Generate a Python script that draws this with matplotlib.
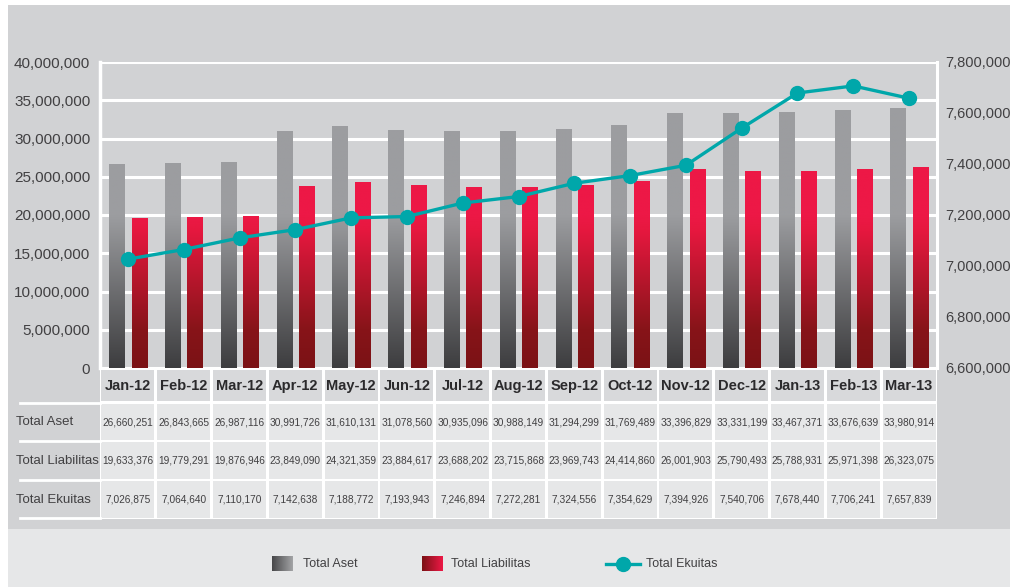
import numpy as np
import matplotlib
matplotlib.use('Agg')
import matplotlib.pyplot as plt
from matplotlib.colors import LinearSegmentedColormap, Normalize
from matplotlib.patches import Rectangle
import matplotlib.transforms as mtransforms

plt.rcParams['font.family'] = ['Liberation Sans', 'DejaVu Sans']

months = ['Jan-12', 'Feb-12', 'Mar-12', 'Apr-12', 'May-12', 'Jun-12', 'Jul-12', 'Aug-12',
          'Sep-12', 'Oct-12', 'Nov-12', 'Dec-12', 'Jan-13', 'Feb-13', 'Mar-13']
total_aset = [26660251, 26843665, 26987116, 30991726, 31610131, 31078560, 30935096, 30988149,
              31294299, 31769489, 33396829, 33331199, 33467371, 33676639, 33980914]
total_liabilitas = [19633376, 19779291, 19876946, 23849090, 24321359, 23884617, 23688202, 23715868,
                    23969743, 24414860, 26001903, 25790493, 25788931, 25971398, 26323075]
total_ekuitas = [7026875, 7064640, 7110170, 7142638, 7188772, 7193943, 7246894, 7272281,
                 7324556, 7354629, 7394926, 7540706, 7678440, 7706241, 7657839]
row_names = ['Total Aset', 'Total Liabilitas', 'Total Ekuitas']

PAGE = '#d1d2d4'
BAND = '#e6e7e8'
CELL = '#e6e7e8'
HEAD = '#d8d9db'
TEXT = '#414042'
TEAL = '#00a7aa'

grey_cmap = LinearSegmentedColormap.from_list('g', ['#3d3d3f', '#9c9da0'])
red_cmap = LinearSegmentedColormap.from_list(
    'r', [(0, '#7b1215'), (0.25, '#871419'), (0.9, '#e6183f'), (1, '#ed1846')])

W, H = 1014, 587
fig = plt.figure(figsize=(W / 100, H / 100), dpi=100)


def frame(x0, y0, x1, y1):
    return [x0 / W, 1 - y1 / H, (x1 - x0) / W, (y1 - y0) / H]


# page background and legend band
bg = fig.add_axes([0, 0, 1, 1])
bg.set_zorder(-1)
bg.set_xlim(0, W)
bg.set_ylim(H, 0)
bg.axis('off')
bg.add_patch(Rectangle((8, 5), 1002, 524, color=PAGE, lw=0, zorder=0))
bg.add_patch(Rectangle((8, 529), 1002, 58, color=BAND, lw=0, zorder=0))

# main chart
ax = fig.add_axes(frame(100, 62, 937, 368))
ax.set_facecolor('none')
x = np.arange(len(months))


def gradient_bars(bars, cmap):
    for p in bars:
        x0, _ = p.get_xy()
        w, h = p.get_width(), p.get_height()
        arr = np.linspace(0, h, 300).reshape(-1, 1)
        im = ax.imshow(arr, extent=[x0, x0 + w, 0, h], origin='lower', cmap=cmap,
                       norm=Normalize(0, 20e6, clip=True), aspect='auto', zorder=2)
        im.set_clip_path(p)


b_aset = ax.bar(x - 0.2, total_aset, 0.27, color='none', lw=0)
b_liab = ax.bar(x + 0.2, total_liabilitas, 0.27, color='none', lw=0)
gradient_bars(b_aset, grey_cmap)
gradient_bars(b_liab, red_cmap)

ax.set_xlim(-0.5, len(months) - 0.5)
ax.set_ylim(0, 40e6)
ax.set_yticks(np.arange(0, 40e6 + 1, 5e6))
ax.yaxis.set_major_formatter(lambda v, p: f'{v:,.0f}')
ax.set_xticks([])
ax.grid(axis='y', color='white', lw=2.2)
ax.set_axisbelow(True)
for s in ['top', 'bottom']:
    ax.spines[s].set_visible(False)
ax.spines['left'].set_color('white')
ax.spines['left'].set_linewidth(2.5)
ax.spines['right'].set_color('white')
ax.spines['right'].set_linewidth(2.2)
ax.tick_params(axis='y', length=0, labelsize=11, labelcolor=TEXT, pad=7)

ax2 = ax.twinx()
ax2.plot(x, total_ekuitas, color=TEAL, lw=2.4, marker='o', ms=10, zorder=5)
ax2.set_ylim(6.6e6, 7.8e6)
ax2.set_yticks(np.arange(6.6e6, 7.8e6 + 1, 2e5))
ax2.yaxis.set_major_formatter(lambda v, p: f'{v:,.0f}')
for s in ax2.spines.values():
    s.set_visible(False)
ax2.tick_params(axis='y', length=0, labelsize=10.5, labelcolor=TEXT, pad=6)

# data table under the chart
tab = fig.add_axes(frame(100, 368, 937, 519), sharex=ax)
tab.set_ylim(3.9, 0)
tab.axis('off')
tab.add_patch(Rectangle((-0.5, 0), len(months), 3.9, color='white', lw=0))
gap = 0.025
for i, m in enumerate(months):
    tab.add_patch(Rectangle((i - 0.5 + gap, 0.05), 1 - 2 * gap, 0.8, color=HEAD, lw=0))
    tab.text(i, 0.47, m, ha='center', va='center', fontsize=10.5, fontweight='bold', color='#2b2a2c')
table_rows = [total_aset, total_liabilitas, total_ekuitas]
for k, values in enumerate(table_rows, start=1):
    for i, v in enumerate(values):
        tab.add_patch(Rectangle((i - 0.5 + gap, k - 0.08), 1 - 2 * gap, 0.95, color=CELL, lw=0))
        tab.text(i, k + 0.4, f'{v:,}', ha='center', va='center', fontsize=7.3, color=TEXT)

lab = mtransforms.blended_transform_factory(bg.transData, tab.transData)
for k, name in enumerate(row_names, start=1):
    tab.text(16, k + 0.4, name, transform=lab, ha='left', va='center', fontsize=9.5, color=TEXT)
for yy in [0.895, 1.895, 2.895, 3.885]:
    tab.plot([20, 100], [yy, yy], transform=lab, color='white', lw=2, clip_on=False)

# legend
def swatch(x0, cmap):
    arr = np.linspace(0, 1, 100).reshape(1, -1)
    bg.imshow(arr, extent=[x0, x0 + 21, 571, 556], cmap=cmap, aspect='auto', zorder=3)


swatch(272, LinearSegmentedColormap.from_list('gl', ['#474749', '#a3a4a6']))
bg.text(303, 564, 'Total Aset', ha='left', va='center', fontsize=9, color=TEXT)
swatch(422, LinearSegmentedColormap.from_list('rl', ['#7b1215', '#ed1846']))
bg.text(451, 564, 'Total Liabilitas', ha='left', va='center', fontsize=9, color=TEXT)
bg.plot([606, 640], [564, 564], color=TEAL, lw=2.4, zorder=3)
bg.plot([623], [564], color=TEAL, marker='o', ms=10, zorder=3)
bg.text(646, 564, 'Total Ekuitas', ha='left', va='center', fontsize=9, color=TEXT)
bg.set_xlim(0, W)
bg.set_ylim(H, 0)

fig.savefig('out.png', dpi=100, facecolor='white')
